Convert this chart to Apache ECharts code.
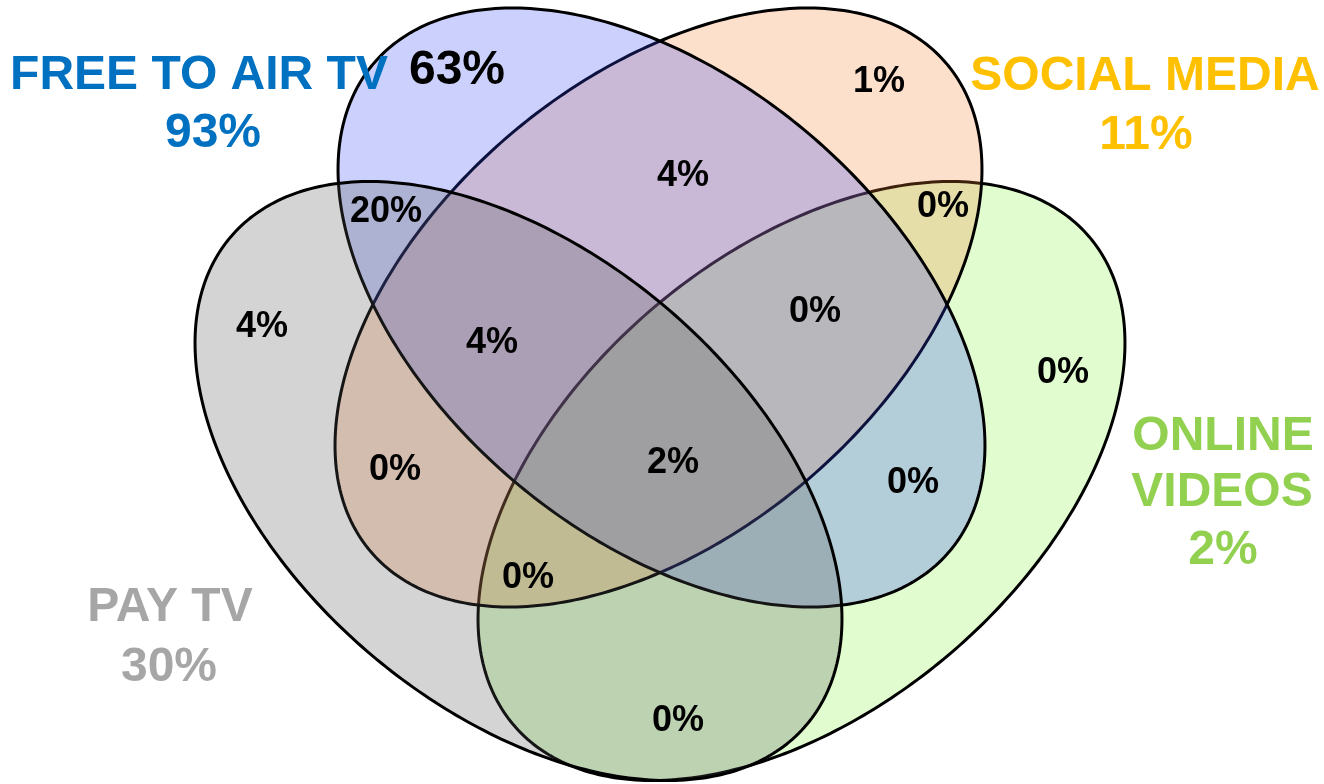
<!DOCTYPE html>
<html>
<head>
<meta charset="utf-8">
<title>TV and video audience overlap</title>
<script src="https://cdn.jsdelivr.net/npm/echarts@6/dist/echarts.min.js"></script>
<style>
  html, body { margin: 0; padding: 0; background: #ffffff; }
  #chart { width: 1324px; height: 784px; }
</style>
</head>
<body>
<div id="chart"></div>
<script>
// ---- data -------------------------------------------------------------
const setNames = ['FREE TO AIR TV', 'SOCIAL MEDIA', 'PAY TV', 'ONLINE VIDEOS'];
const setShares = [93, 11, 30, 2];

// Exclusive region shares; keys list which sets a region belongs to
// (F = free to air, S = social media, P = pay TV, O = online videos)
const regionKeys = ['F', 'S', 'FS', 'FP', 'SO', 'P', 'FSP', 'FSO', 'O', 'SP', 'FSPO', 'FO', 'SPO', 'PO'];
const regionShares = [63, 1, 4, 20, 0, 4, 4, 0, 0, 0, 2, 0, 0, 0];

// ---- layout (axis units; y axis runs downwards) ------------------------
const ellipseA = 377.4, ellipseB = 227.8, tilt = 40.25;
const ellipseLayout = [
  { cx: 661.5, cy: 307.5, angle: tilt },   // free to air
  { cx: 658.5, cy: 307.5, angle: -tilt },  // social media
  { cx: 518.5, cy: 481.0, angle: tilt },   // pay TV
  { cx: 801.5, cy: 481.0, angle: -tilt }   // online videos
];
const setFills = [
  'rgba(47,67,243,0.25)',
  'rgba(247,131,51,0.25)',
  'rgba(83,83,83,0.25)',
  'rgba(135,247,67,0.25)'
];
const setTextColors = ['#0070c0', '#ffc000', '#a6a6a6', '#92d050'];
// painting order: online videos, social media, free to air, pay TV
const paintOrder = [3, 1, 0, 2];

const regionAnchors = {
  F: [457, 71], S: [879, 82], FS: [683, 176], FP: [386, 212], SO: [943, 207],
  P: [262, 327], FSP: [492, 343], FSO: [815, 312], O: [1063, 373], SP: [395, 470],
  FSPO: [673, 463], FO: [913, 483], SPO: [528, 578], PO: [678, 721]
};
const regionFontSize = { F: 48 };

const setNameAnchors = [
  { lines: [[199, 76]], share: [213, 134] },
  { lines: [[1145, 77]], share: [1146, 136] },
  { lines: [[170, 608]], share: [169, 668] },
  { lines: [[1223, 437], [1222, 493]], share: [1223, 551] }
];

// ---- chart -------------------------------------------------------------
const chart = echarts.init(document.getElementById('chart'), null, { renderer: 'canvas' });

function ellipsePoints(api, e) {
  const pts = [];
  const th = e.angle * Math.PI / 180;
  const c = Math.cos(th), s = Math.sin(th);
  const n = 360;
  for (let k = 0; k < n; k++) {
    const t = (k / n) * Math.PI * 2;
    const ux = ellipseA * Math.cos(t), uy = ellipseB * Math.sin(t);
    pts.push(api.coord([e.cx + ux * c - uy * s, e.cy + ux * s + uy * c]));
  }
  return pts;
}

const textItems = [];
regionKeys.forEach((k, i) => {
  const p = regionAnchors[k];
  textItems.push({ value: [p[0], p[1]], text: regionShares[i] + '%', color: '#000', size: regionFontSize[k] || 36 });
});
setNames.forEach((name, i) => {
  const a = setNameAnchors[i];
  const parts = a.lines.length > 1 ? name.split(' ') : [name];
  parts.forEach((part, j) => {
    textItems.push({ value: a.lines[j], text: part, color: setTextColors[i], size: 48 });
  });
  textItems.push({ value: a.share, text: setShares[i] + '%', color: setTextColors[i], size: 48 });
});

chart.setOption({
  animation: false,
  backgroundColor: '#ffffff',
  grid: { left: 0, right: 0, top: 0, bottom: 0 },
  xAxis: { type: 'value', min: 0, max: 1324, show: false },
  yAxis: { type: 'value', min: 0, max: 784, inverse: true, show: false },
  series: [
    {
      type: 'custom',
      silent: true,
      coordinateSystem: 'cartesian2d',
      data: paintOrder.map(i => [ellipseLayout[i].cx, ellipseLayout[i].cy, i]),
      renderItem: function (params, api) {
        const idx = api.value(2);
        return {
          type: 'polygon',
          shape: { points: ellipsePoints(api, ellipseLayout[idx]) },
          style: { fill: setFills[idx], stroke: '#000000', lineWidth: 3 }
        };
      },
      z: 1
    },
    {
      type: 'custom',
      silent: true,
      coordinateSystem: 'cartesian2d',
      data: textItems.map((t, i) => [t.value[0], t.value[1], i]),
      renderItem: function (params, api) {
        const t = textItems[api.value(2)];
        const p = api.coord([api.value(0), api.value(1)]);
        return {
          type: 'text',
          x: p[0],
          y: p[1],
          style: {
            text: t.text,
            fill: t.color,
            font: 'bold ' + t.size + 'px "Liberation Sans", Arial, sans-serif',
            align: 'center',
            verticalAlign: 'middle'
          }
        };
      },
      z: 5
    }
  ]
});
</script>
</body>
</html>
